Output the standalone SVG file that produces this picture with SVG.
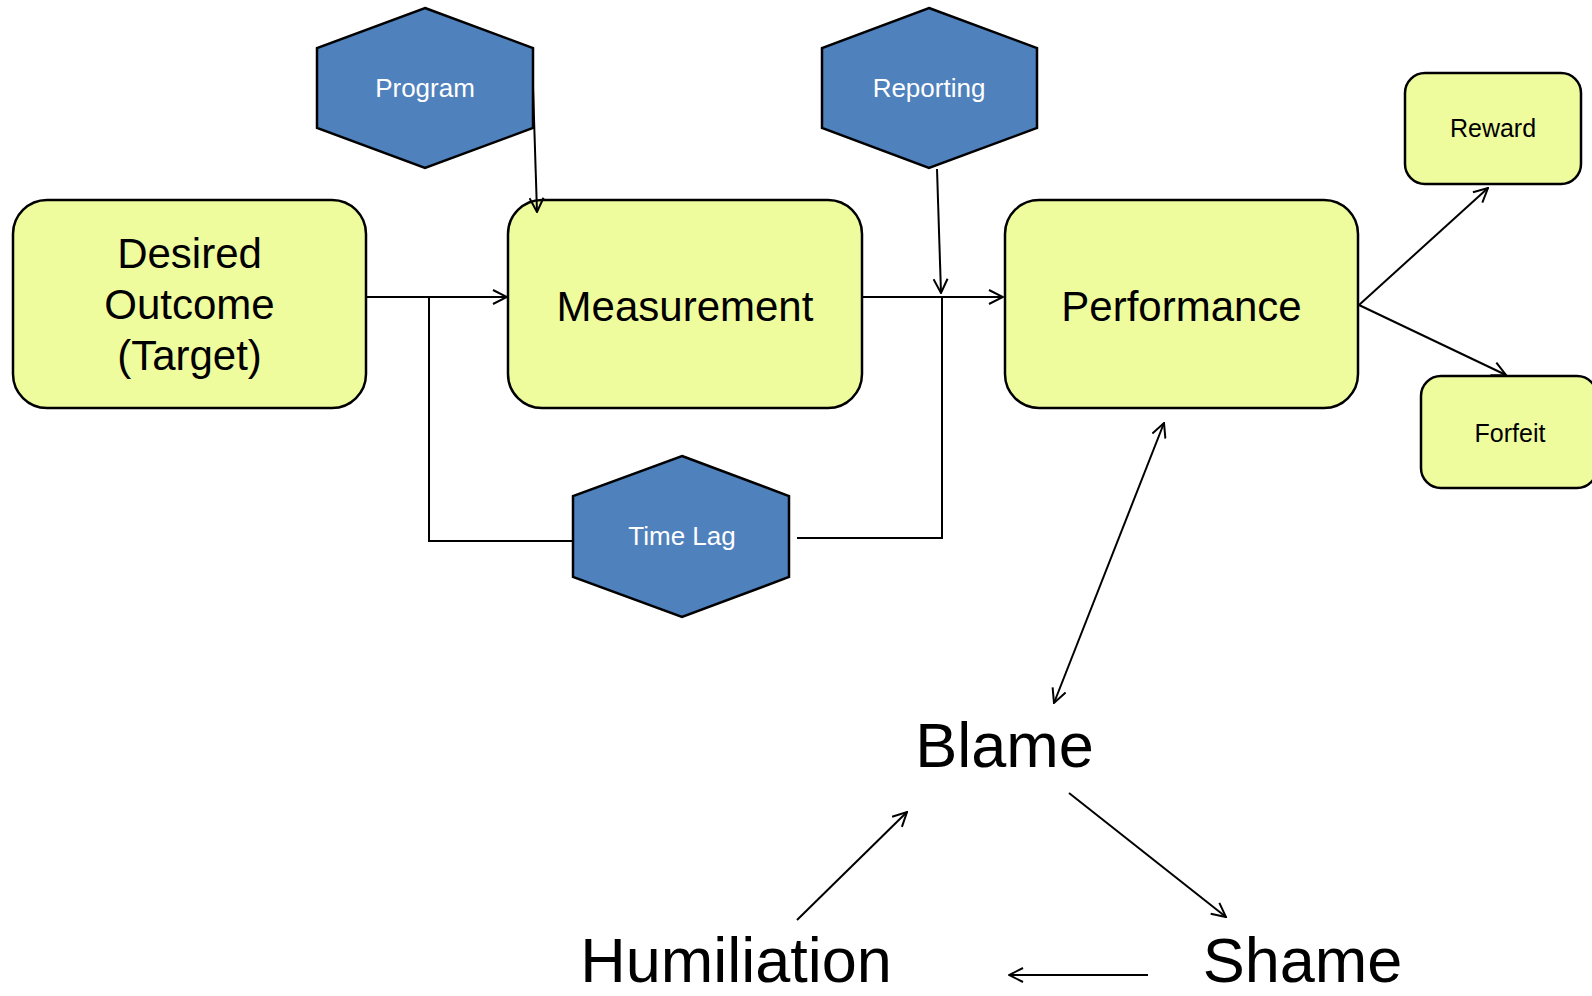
<svg xmlns="http://www.w3.org/2000/svg" width="1592" height="996" viewBox="0 0 1592 996">
<defs>
<style>
.box{fill:#EFFC9E;stroke:#000;stroke-width:2.5}
.hex{fill:#4F81BD;stroke:#000;stroke-width:2.5}
.bt{font-family:"Liberation Sans",Arial,sans-serif;font-size:42px;fill:#000;text-anchor:middle}
.st{font-family:"Liberation Sans",Arial,sans-serif;font-size:25px;fill:#000;text-anchor:middle}
.ht{font-family:"Liberation Sans",Arial,sans-serif;font-size:26px;fill:#fff;text-anchor:middle}
.big{font-family:"Liberation Sans",Arial,sans-serif;font-size:63px;fill:#000;text-anchor:middle}
.ln{fill:none;stroke:#000;stroke-width:2}
.ar{marker-end:url(#arr)}
</style>
<marker id="arr" viewBox="0 0 16 16" refX="15" refY="8" markerWidth="16" markerHeight="16" markerUnits="userSpaceOnUse" orient="auto-start-reverse">
<path d="M1,1 L15,8 L1,15" fill="none" stroke="#000" stroke-width="2"/>
</marker>
</defs>
<rect width="1592" height="996" fill="#fff"/>

<g id="desired">
<rect class="box" x="13" y="200" width="353" height="208" rx="34"/>
<text class="bt" x="189.5" y="268">Desired</text>
<text class="bt" x="189.5" y="319">Outcome</text>
<text class="bt" x="189.5" y="370">(Target)</text>
</g>
<g id="measurement">
<rect class="box" x="508" y="200" width="354" height="208" rx="34"/>
<text class="bt" x="685" y="321">Measurement</text>
</g>
<g id="performance">
<rect class="box" x="1005" y="200" width="353" height="208" rx="34"/>
<text class="bt" x="1181.5" y="321">Performance</text>
</g>
<g id="reward">
<rect class="box" x="1405" y="73" width="176" height="111" rx="20"/>
<text class="st" x="1493" y="137">Reward</text>
</g>
<g id="forfeit">
<rect class="box" x="1421" y="376" width="176" height="112" rx="20"/>
<text class="st" x="1510" y="442">Forfeit</text>
</g>
<g id="program">
<polygon class="hex" points="425,8 533,48 533,128 425,168 317,128 317,48"/>
<text class="ht" x="425" y="97">Program</text>
</g>
<g id="reporting">
<polygon class="hex" points="929,8 1037,48 1037,128 929,168 822,128 822,48"/>
<text class="ht" x="929" y="97">Reporting</text>
</g>
<g id="timelag">
<polygon class="hex" points="682,456 789,496 789,577 682,617 573,577 573,496"/>
<text class="ht" x="682" y="545">Time Lag</text>
</g>
<g id="blame"><text class="big" x="1004.5" y="767">Blame</text></g>
<g id="humiliation"><text class="big" x="736" y="982">Humiliation</text></g>
<g id="shame"><text class="big" x="1302.5" y="982">Shame</text></g>

<g id="connectors">
<line class="ln ar" x1="367" y1="297" x2="507" y2="297"/>
<polyline class="ln" points="429,297 429,541 572,541"/>
<polyline class="ln" points="797,538 942,538 942,297"/>
<line class="ln ar" x1="863" y1="297" x2="1003" y2="297"/>
<line class="ln ar" x1="533" y1="87" x2="537" y2="212"/>
<line class="ln ar" x1="937" y1="169" x2="941" y2="293"/>
<line class="ln ar" x1="1359" y1="305" x2="1488" y2="188"/>
<line class="ln ar" x1="1359" y1="305" x2="1506" y2="375"/>
<line class="ln ar" x1="1054" y1="703" x2="1164" y2="423" style="marker-start:url(#arr)"/>
<line class="ln ar" x1="1069" y1="793" x2="1226" y2="917"/>
<line class="ln ar" x1="1148" y1="975" x2="1009" y2="975"/>
<line class="ln ar" x1="797" y1="920" x2="907" y2="812"/>
</g>
</svg>
